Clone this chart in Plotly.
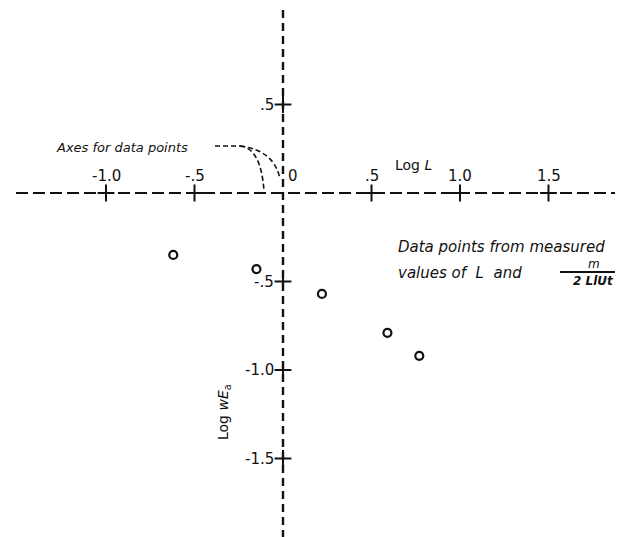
import plotly.graph_objects as go

# data points (log L, log wE_a)
log_l = [-0.62, -0.15, 0.22, 0.59, 0.77]
log_wea = [-0.35, -0.43, -0.57, -0.79, -0.92]

# axis ticks
x_ticks = [-1.0, -0.5, 0.0, 0.5, 1.0, 1.5]
x_tick_text = ["-1.0", "-.5", "0", ".5", "1.0", "1.5"]
y_ticks = [0.5, -0.5, -1.0, -1.5]
y_tick_text = [".5", "-.5", "-1.0", "-1.5"]

# page geometry: origin pixel and pixels per unit (same on both axes)
W, H = 623, 537
X0, Y0, S = 275, 185, 177.0


def dx(px):
    return (px - X0) / S


def dy(py):
    return (Y0 - py) / S


FONT = "DejaVu Sans"
INK = "#111111"

fig = go.Figure()

# dashed axes through the origin
fig.add_shape(type="line", x0=dx(8), x1=dx(W), y0=0, y1=0,
              line=dict(color=INK, width=2.2, dash="12px,5px"))
fig.add_shape(type="line", x0=0, x1=0, y0=dy(2), y1=dy(533),
              line=dict(color=INK, width=2.4, dash="8px,5px"))

# "+" tick marks
cross = dict(symbol="cross-thin", size=12, color=INK, line=dict(color=INK, width=2))
fig.add_trace(go.Scatter(
    x=[t for t in x_ticks if t != 0], y=[0] * (len(x_ticks) - 1),
    mode="markers", hoverinfo="skip", showlegend=False, marker=cross,
))
fig.add_trace(go.Scatter(
    x=[0] * len(y_ticks), y=y_ticks,
    mode="markers", hoverinfo="skip", showlegend=False, marker=cross,
))

# data points
fig.add_trace(go.Scatter(
    x=log_l, y=log_wea, mode="markers", showlegend=False,
    marker=dict(symbol="circle-open", size=8, color=INK,
                line=dict(color=INK, width=2.2)),
))

ann = []
for t, s in zip(x_ticks, x_tick_text):
    shift = 10 if t == 0 else 0
    ann.append(dict(x=t, y=0, text=s, showarrow=False, yanchor="bottom",
                    xanchor="center", xshift=shift, yshift=6,
                    font=dict(family=FONT, size=15, color=INK)))
for t, s in zip(y_ticks, y_tick_text):
    ann.append(dict(x=0, y=t, text=s, showarrow=False, xanchor="right",
                    yanchor="middle", xshift=-7,
                    font=dict(family=FONT, size=15, color=INK)))

ann += [
    dict(x=dx(405), y=dy(157), text="Log <i>L</i>", showarrow=False,
         font=dict(family=FONT, size=14, color=INK)),
    dict(x=dx(216), y=dy(404), text="Log <i>wE</i><sub>a</sub>", showarrow=False,
         textangle=-90, font=dict(family=FONT, size=14, color=INK)),
    dict(x=dx(46), y=dy(139), text="<i>Axes for data points</i>", showarrow=False,
         xanchor="left", font=dict(family=FONT, size=13, color=INK)),
    dict(x=dx(388), y=dy(239), text="<i>Data points from measured</i>", showarrow=False,
         xanchor="left", font=dict(family=FONT, size=15, color=INK)),
    dict(x=dx(388), y=dy(265), text="<i>values of  L  and</i>", showarrow=False,
         xanchor="left", font=dict(family=FONT, size=15, color=INK)),
    dict(x=dx(586), y=dy(256), text="<i>m</i>", showarrow=False,
         font=dict(family=FONT, size=12, color=INK)),
    dict(x=dx(585), y=dy(273), text="<i><b>2 LlUt</b></i>", showarrow=False,
         font=dict(family=FONT, size=12, color=INK)),
]

# fraction bar
fig.add_shape(type="line", x0=dx(552), x1=dx(618), y0=dy(264), y1=dy(264),
              line=dict(color=INK, width=1.8))


def path(points):
    # quadratic curve path through pixel points converted to data coords
    (a, b), (c, d), (e, f) = points
    return f"M {dx(a)},{dy(b)} Q {dx(c)},{dy(d)} {dx(e)},{dy(f)}"


# leader lines from the note to both axes
lead = dict(color=INK, width=1.6, dash="5px,3px")
fig.add_shape(type="line", x0=dx(207), x1=dx(232), y0=dy(138), y1=dy(138), line=lead)
fig.add_shape(type="path", path=path([(232, 138), (253, 140), (256, 183)]), line=lead)
fig.add_shape(type="path", path=path([(232, 138), (266, 142), (272, 171)]), line=lead)

fig.update_layout(
    width=W, height=H,
    margin=dict(l=0, r=0, t=0, b=0),
    paper_bgcolor="white", plot_bgcolor="white",
    xaxis=dict(range=[dx(0), dx(W)], visible=False),
    yaxis=dict(range=[dy(H), dy(0)], visible=False),
    annotations=ann,
)

fig.write_html("out.html")
